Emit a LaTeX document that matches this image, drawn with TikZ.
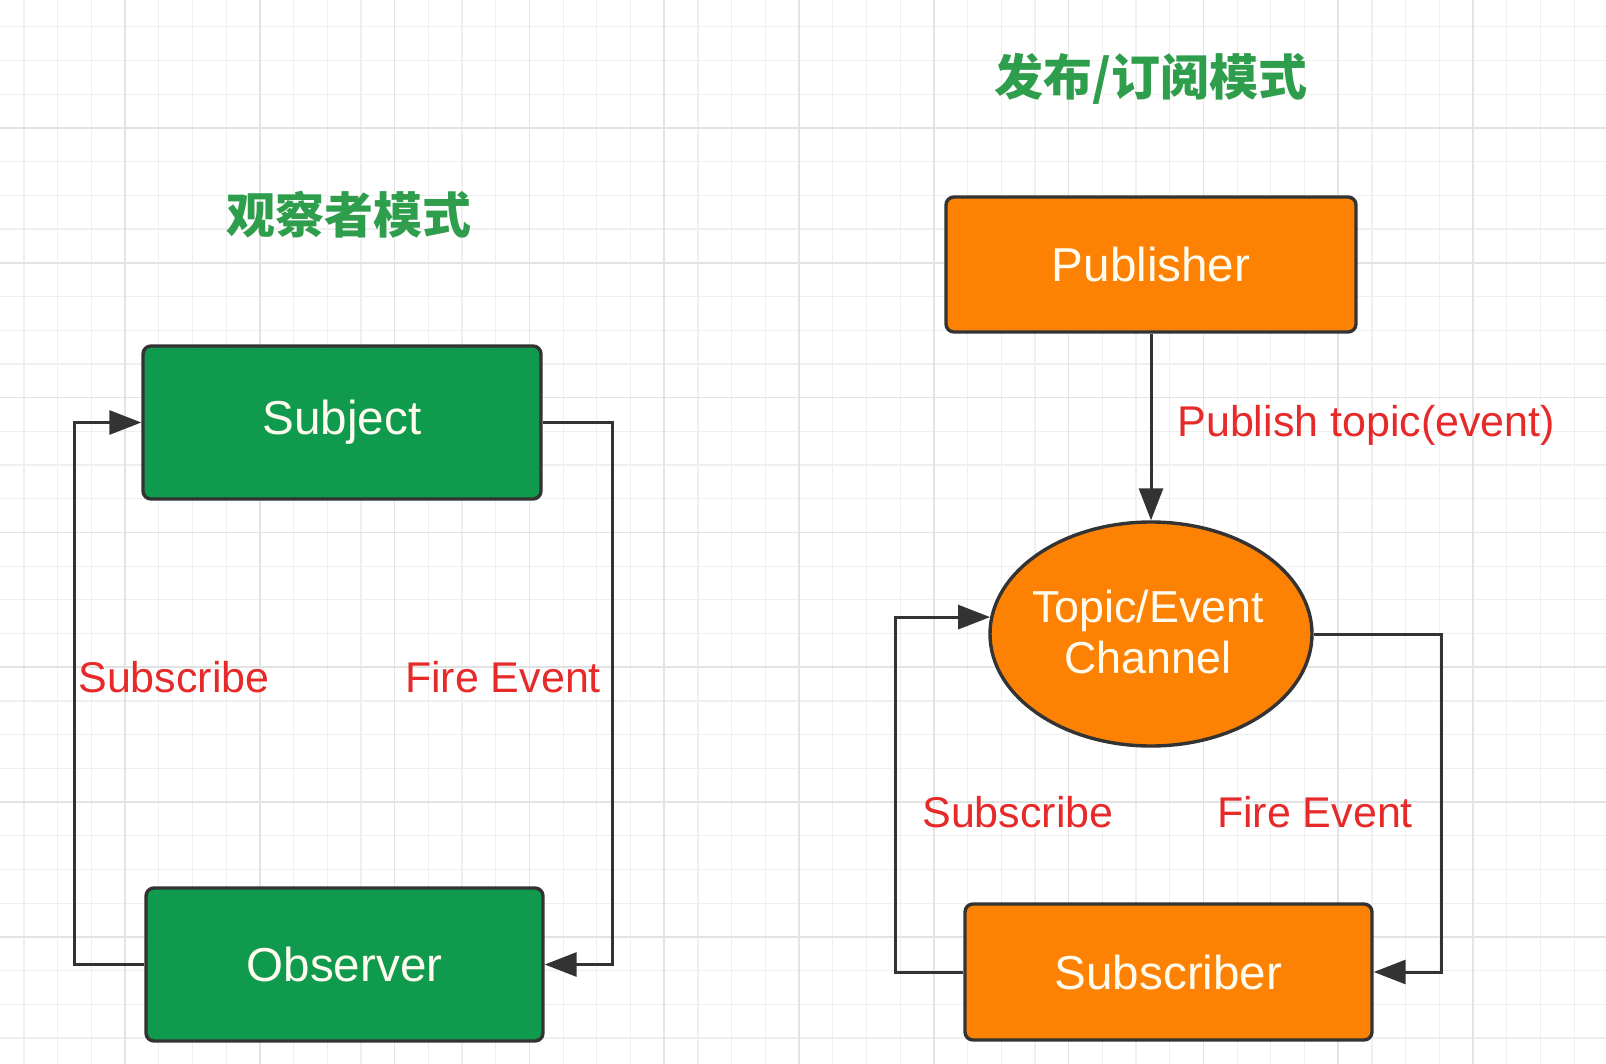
\documentclass[tikz,border=0pt]{standalone}
\usepackage{fontspec}
\setmainfont{Liberation Sans}
\newfontfamily\cjk{Noto Sans CJK SC}
\usetikzlibrary{shapes.geometric,arrows.meta}
\definecolor{boxgreen}{HTML}{109A4E}
\definecolor{boxorange}{HTML}{FD8204}
\definecolor{bordc}{HTML}{333333}
\definecolor{lblred}{HTML}{E62A2A}
\definecolor{titlegreen}{HTML}{2E9E4C}
\definecolor{txtc}{HTML}{FFFBEE}
\definecolor{gridminor}{HTML}{EFEFEF}
\definecolor{gridmajor}{HTML}{E3E3E3}
\begin{document}
\begin{tikzpicture}[x=0.5pt,y=-0.5pt,
  box/.style={draw=bordc, line width=1.7pt, rounded corners=4pt, inner sep=0pt, text=txtc,
    font=\fontsize{23.8}{28}\selectfont},
  gbox/.style={box, fill=boxgreen, minimum width=199pt, minimum height=76.5pt},
  obox/.style={box, fill=boxorange},
  conn/.style={draw=bordc, line width=1.5pt},
  arr/.style={conn, -{Triangle[length=16pt,width=12pt]}},
  lbl/.style={text=lblred, font=\fontsize{21.5}{26}\selectfont, inner sep=0pt},
  ttl/.style={text=titlegreen, font=\cjk\bfseries\fontsize{24.5}{30}\selectfont, inner sep=0pt},
  gminor/.style={draw=gridminor, line width=0.6pt},
  gmajor/.style={draw=gridmajor, line width=0.8pt}]
\useasboundingbox (0,0) rectangle (1606,1064);
\fill[white] (0,0) rectangle (1606,1064);
% grid
\foreach \i in {0,...,47} {
  \draw[gminor] ({23.9+33.7*\i},0) -- ++(0,1064);
}
\foreach \i in {0,...,31} {
  \draw[gminor] (0,{26.9+33.7*\i}) -- ++(1606,0);
}
\foreach \i in {0,...,11} {
  \draw[gmajor] ({125+134.8*\i},0) -- ++(0,1064);
}
\foreach \i in {0,...,7} {
  \draw[gmajor] (0,{128+134.8*\i}) -- ++(1606,0);
}
% titles
\node[ttl] (t1) at (349,215) {观察者模式};
\node[ttl] (t2) at (1151,79) {发布/订阅模式};
% left: observer pattern
\node[gbox] (subj) at (342,422.5) {Subject};
\node[gbox, minimum width=198.5pt] (obs) at (344.5,964.5) {Observer};
\draw[arr] (obs.west) -- ++(-70,0) |- (subj.west);
\draw[arr] (subj.east) -- ++(70,0) |- (obs.east);
\node[lbl] (l1) at (174,677) {Subscribe};
\node[lbl] (l2) at (503,677) {Fire Event};
% right: publish/subscribe
\node[obox, minimum width=205pt, minimum height=67.5pt] (pub) at (1151,264.5) {Publisher};
\node[ellipse, draw=bordc, line width=1.7pt, fill=boxorange, minimum width=161pt, minimum height=112pt, inner sep=0pt] (ell) at (1151,634) {};
\node[text=txtc, align=center, inner sep=0pt, font=\fontsize{22.4}{25.5}\selectfont] (etxt) at (1148,632) {Topic/Event\\Channel};
\node[obox, minimum width=203.5pt, minimum height=68pt] (subs) at (1168.5,972) {Subscriber};
\coordinate (ein) at (ell.174);
\draw[arr] (pub.south) -- (ell.north);
\draw[arr] (subs.west) -- ++(-68,0) |- (ein);
\draw[arr] (ell.east) -- ++(128,0) |- (subs.east);
\node[lbl, anchor=west] (l3) at (1177,425) {Publish topic(event)};
\node[lbl] (l4) at (1018,812) {Subscribe};
\node[lbl] (l5) at (1315,812) {Fire Event};
\end{tikzpicture}
\end{document}
